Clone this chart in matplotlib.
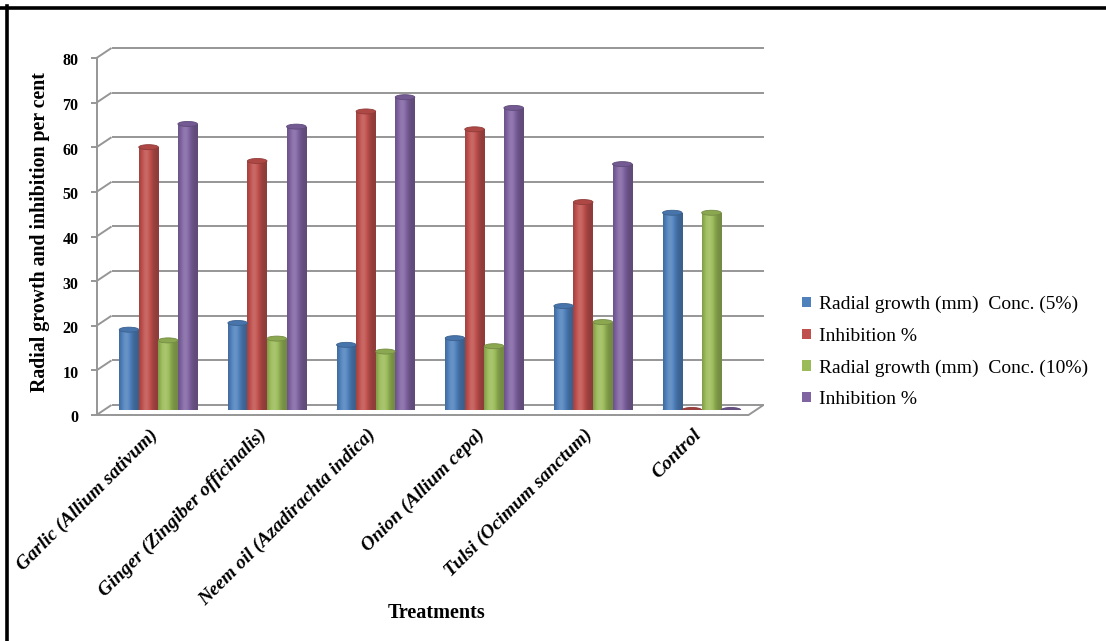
import numpy as np
import matplotlib
matplotlib.use("Agg")
import matplotlib.pyplot as plt
from matplotlib.patches import Ellipse, Patch
from matplotlib.lines import Line2D
from matplotlib.colors import to_rgb

# ---- data -------------------------------------------------------------
treatments = [
    "Garlic (Allium sativum)",
    "Ginger (Zingiber officinalis)",
    "Neem oil (Azadirachta indica)",
    "Onion (Allium cepa)",
    "Tulsi (Ocimum sanctum)",
    "Control",
]
growth_5 = [18.0, 19.5, 14.6, 16.1, 23.3, 44.2]
inhibition_5 = [58.9, 55.8, 66.9, 62.9, 46.6, 0.0]
growth_10 = [15.6, 16.0, 13.1, 14.3, 19.7, 44.2]
inhibition_10 = [64.1, 63.5, 70.1, 67.7, 55.1, 0.0]

series_labels = [
    "Radial growth (mm)  Conc. (5%)",
    "Inhibition %",
    "Radial growth (mm)  Conc. (10%)",
    "Inhibition %",
]
series_colors = ["#4F81BD", "#C0504D", "#9BBB59", "#8064A2"]
y_ticks = [0, 10, 20, 30, 40, 50, 60, 70, 80]

# ---- figure -----------------------------------------------------------
W, H = 1106, 641
fig = plt.figure(figsize=(W / 100, H / 100), dpi=100)
fig.patch.set_facecolor("white")

SERIF = ["Liberation Serif", "DejaVu Serif"]

# plotting box at mid depth of the pseudo-3D floor
ax_left, ax_bottom_px, ax_w, ax_h = 104, 410, 652, 357
ax = fig.add_axes([ax_left / W, (H - ax_bottom_px) / H, ax_w / W, ax_h / H])
ax.axis("off")

px_x = ax_w / 6.0      # pixels per category unit
px_y = ax_h / 80.0     # pixels per value unit
DX = 7.5 / px_x        # half depth, horizontal
DY = 5.0 / px_y        # half depth, vertical

grid_kw = dict(color="#969696", lw=1.4, clip_on=False, zorder=1,
               solid_capstyle="butt")

# back wall grid and left wall diagonals
for v in y_ticks:
    ax.plot([-0.5 - DX, -0.5 + DX], [v - DY, v + DY], **grid_kw)
    ax.plot([-0.5 + DX, 5.5 + DX], [v + DY, v + DY], **grid_kw)
    # small tick on the front-left edge
    ax.plot([-0.5 - DX - 6 / px_x, -0.5 - DX], [v - DY, v - DY], **grid_kw)
    ax.annotate(str(v), xy=(-0.5 - DX, v - DY), xytext=(-13, -2.5),
                textcoords="offset points", ha="right", va="center",
                fontsize=11.5, fontweight="bold", family=SERIF,
                annotation_clip=False)

# front-left edge and floor outline
ax.plot([-0.5 - DX, -0.5 - DX], [-DY, 80 - DY], **grid_kw)
ax.plot([-0.5 - DX, 5.5 - DX], [-DY, -DY], **grid_kw)
ax.plot([5.5 - DX, 5.5 + DX], [-DY, DY], **grid_kw)


def cylinder_shade(color, n=80):
    t = np.linspace(0, 1, n)
    f = 0.74 + 0.40 * np.exp(-((t - 0.36) / 0.30) ** 2)
    rgb = np.array(to_rgb(color))
    f = f[:, None]
    out = np.where(f <= 1, rgb * f, rgb + (1 - rgb) * (f - 1))
    return np.clip(out, 0, 1)[None, :, :]


def scale_color(color, k):
    rgb = np.array(to_rgb(color))
    if k <= 1:
        return tuple(rgb * k)
    return tuple(rgb + (1 - rgb) * (k - 1))


bw = 0.18
offsets = (np.arange(4) - 1.5) * bw
cap_h = 5.0 / px_y
all_series = [growth_5, inhibition_5, growth_10, inhibition_10]

for s, (vals, col) in enumerate(zip(all_series, series_colors)):
    xs = np.arange(len(treatments)) + offsets[s]
    bars = ax.bar(xs, vals, width=bw, color=col, linewidth=0, zorder=3)
    grad = cylinder_shade(col)
    for x, v, rect in zip(xs, vals, bars):
        # rounded base
        ax.add_patch(Ellipse((x, 0), bw, cap_h, facecolor=scale_color(col, 0.85),
                             edgecolor="none", zorder=2.9))
        if v > 0:
            im = ax.imshow(grad, extent=(x - bw / 2, x + bw / 2, 0, v),
                           aspect="auto", interpolation="bilinear", zorder=3.1)
            im.set_clip_path(rect)
        # top cap
        ax.add_patch(Ellipse((x, v), bw, cap_h,
                             facecolor=scale_color(col, 0.9 if v > 0 else 0.8),
                             edgecolor=scale_color(col, 0.75), lw=0.6, zorder=3.2))

ax.set_xlim(-0.5, 5.5)
ax.set_ylim(0, 80)

# category labels
for i, name in enumerate(treatments):
    ax.annotate(name, xy=(i - DX, -DY), xytext=(-1, -8),
                textcoords="offset points", ha="right", va="top",
                rotation=45, rotation_mode="anchor", fontsize=14,
                fontweight="bold", fontstyle="italic", family=SERIF,
                annotation_clip=False)

fig.text(40 / W, 1 - 232 / H, "Radial growth and inhibition per cent",
         rotation=90, ha="center", va="center", fontsize=14.3,
         fontweight="bold", family=SERIF)
fig.text(437 / W, 1 - 613 / H, "Treatments", ha="center", va="center",
         fontsize=14.5, fontweight="bold", family=SERIF)

handles = [Patch(facecolor=c, edgecolor="none") for c in series_colors]
fig.legend(handles, series_labels, loc="center left",
           bbox_to_anchor=(802 / W, 1 - 352 / H), frameon=False,
           prop=dict(family=SERIF, size=14), handlelength=0.45,
           handleheight=0.45, handletextpad=0.4, labelspacing=0.75,
           borderpad=0, borderaxespad=0)

# outer frame (top and left edges)
fig.add_artist(Line2D([0, 1], [1 - 7.5 / H] * 2, color="black", lw=2.6,
                      transform=fig.transFigure))
fig.add_artist(Line2D([6.8 / W] * 2, [0, 1 - 6 / H], color="black", lw=2.6,
                      transform=fig.transFigure))

fig.savefig("out.png", dpi=100, facecolor="white")
